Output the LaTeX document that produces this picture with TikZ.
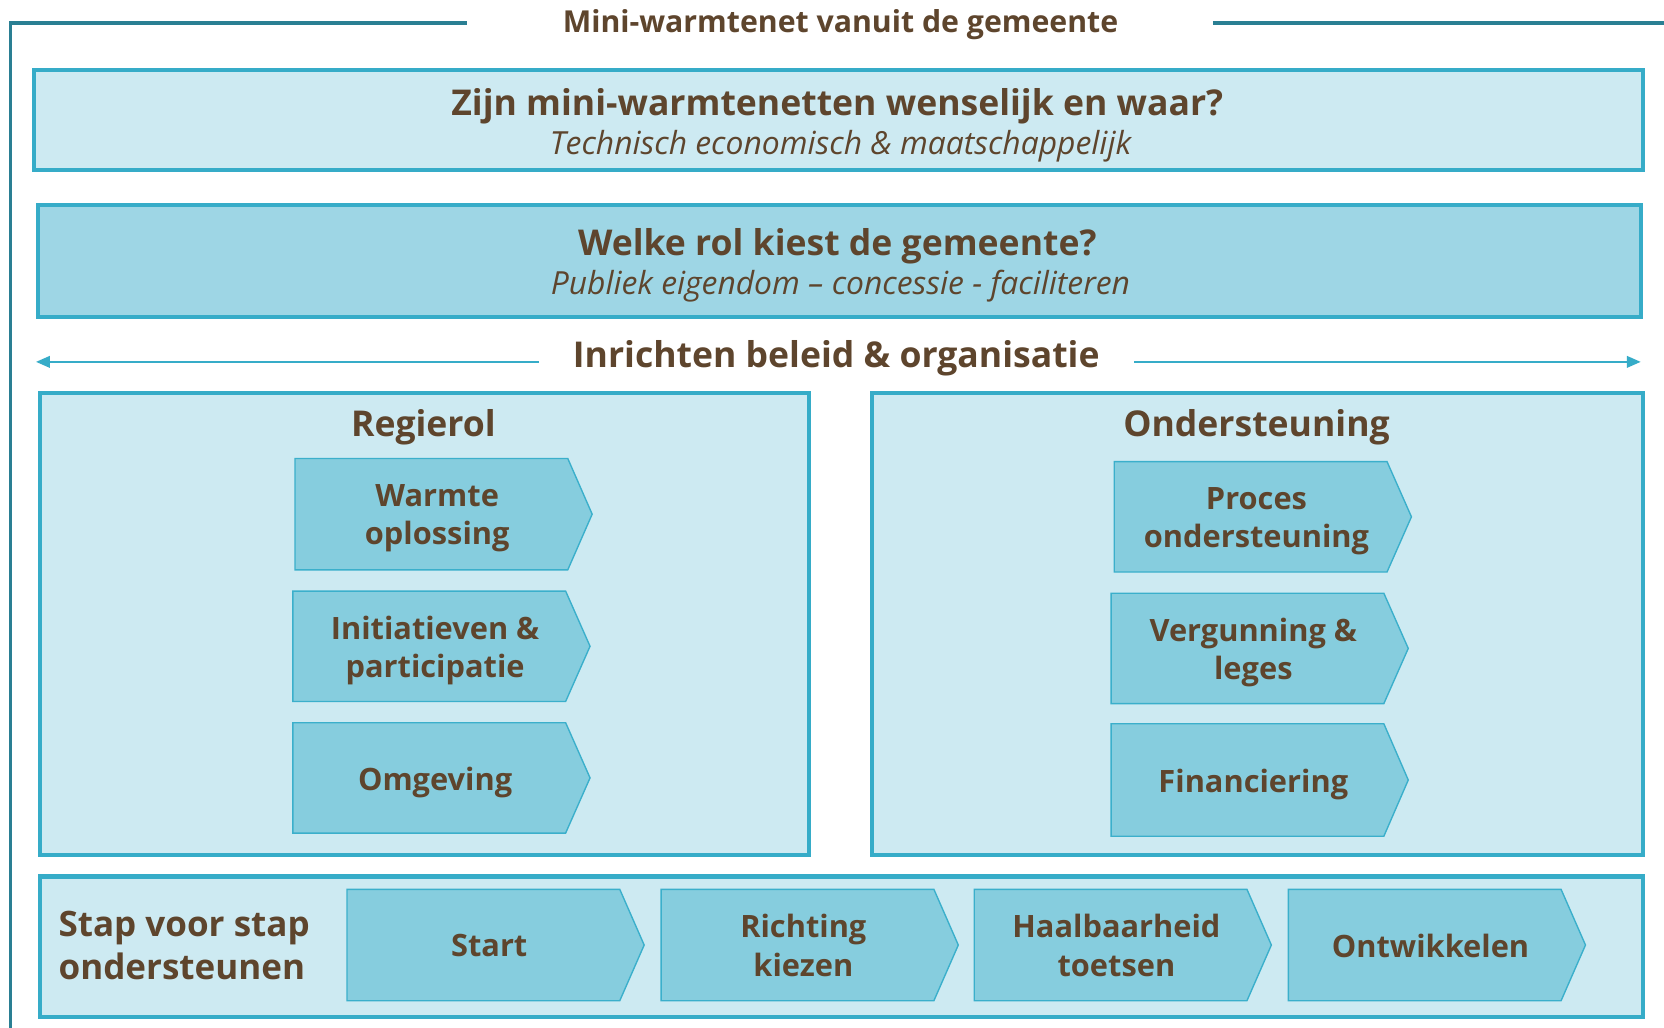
\documentclass[tikz,border=0pt]{standalone}
\usepackage{fontspec}
\setmainfont{Open Sans}
\usetikzlibrary{arrows.meta}
\definecolor{txt}{HTML}{5E452D}
\definecolor{framec}{HTML}{2A7F93}
\definecolor{boxborder}{HTML}{36ACC8}
\definecolor{lightfill}{HTML}{CDEAF2}
\definecolor{midfill}{HTML}{9ED6E5}
\definecolor{chevfill}{HTML}{86CDDE}
\definecolor{chevborder}{HTML}{3BAFCB}
\def\chevdy{4}
\newcommand\chevron[6]{%
  \draw[chevshape] (#2,#3) -- (#4-23,#3) -- (#4,{(#3+#5)/2}) -- (#4-23,#5) -- (#2,#5) -- cycle;
  \node[chevtxt] (#1) at ({(#2+#4-12)/2},{(#3+#5)/2+\chevdy}) {#6};}
\begin{document}
\begin{tikzpicture}[x=1pt,y=-1pt,
  framel/.style={draw=framec,line width=3.5pt},
  bigbox/.style={draw=boxborder,line width=4pt,fill=lightfill},
  midbox/.style={draw=boxborder,line width=4pt,fill=midfill},
  chevshape/.style={draw=chevborder,line width=1.3pt,fill=chevfill,line join=miter},
  chevtxt/.style={text=txt,font=\fontsize{29}{36}\selectfont\bfseries,align=center,inner sep=0pt},
  ttl/.style={text=txt,font=\fontsize{33.5}{38}\selectfont\bfseries,inner sep=0pt},
  sub/.style={text=txt,font=\fontsize{30}{38}\selectfont\itshape,inner sep=0pt},
  arrowline/.style={draw=boxborder,line width=1.5pt,-{Triangle[length=13pt,width=11pt]}}
]
\useasboundingbox (0,0) rectangle (1568,968);
\fill[white] (0,0) rectangle (1568,968);
% outer frame
\node[text=txt,font=\fontsize{28.5}{30}\selectfont\bfseries,inner sep=0pt] (main) at (792,23) {Mini-warmtenet vanuit de gemeente};
\draw[framel] (440,22) -- (10,22) -- (10,970);
\draw[framel] (1143,22) -- (1570,22);
% box 1
\draw[bigbox] (32,66) rectangle (1548,160);
\node[ttl] (q1) at (789,100) {Zijn mini-warmtenetten wenselijk en waar?};
\node[sub] (s1) at (792,138) {Technisch economisch \& maatschappelijk};
% box 2
\draw[midbox] (36,193) rectangle (1546,299);
\node[ttl] (q2) at (789,232) {Welke rol kiest de gemeente?};
\node[sub] (s2) at (792,270) {Publiek eigendom – concessie - faciliteren};
% arrow line
\node[ttl] (inr) at (788,338) {Inrichten beleid \& organisatie};
\coordinate (lL) at (508,341);
\coordinate (aL) at (34,341);
\coordinate (lR) at (1069,341);
\coordinate (aR) at (1546,341);
\draw[arrowline] (lL) -- (aL);
\draw[arrowline] (lR) -- (aR);
% Regierol
\draw[bigbox] (38,370) rectangle (762,806);
\node[ttl] (regie) at (399,403) {Regierol};
\chevron{warmte}{278}{432}{558}{537}{Warmte\\oplossing}
\chevron{init}{276}{557}{556}{661}{Initiatieven \&\\participatie}
\chevron{omg}{276}{681}{556}{785}{Omgeving}
% Ondersteuning
\draw[bigbox] (822,370) rectangle (1548,806);
\node[ttl] (onder) at (1184,403) {Ondersteuning};
\chevron{proces}{1050}{435}{1330}{539}{Proces\\ondersteuning}
\chevron{verg}{1047}{559}{1327}{663}{Vergunning \&\\leges}
\chevron{fin}{1047}{682}{1327}{788}{Financiering}
% bottom
\draw[bigbox] (38,826) rectangle (1548,958);
\node[ttl,align=left,anchor=west,font=\fontsize{33}{40}\selectfont\bfseries] (stap) at (55,891) {Stap voor stap\\ondersteunen};
\def\chevdy{0.5}
\chevron{start}{327}{838}{607}{943}{Start}
\chevron{richting}{623}{838}{903}{943}{Richting\\kiezen}
\chevron{haal}{918}{838}{1198}{943}{Haalbaarheid\\toetsen}
\chevron{ontw}{1214}{838}{1494}{943}{Ontwikkelen}
\end{tikzpicture}
\end{document}
